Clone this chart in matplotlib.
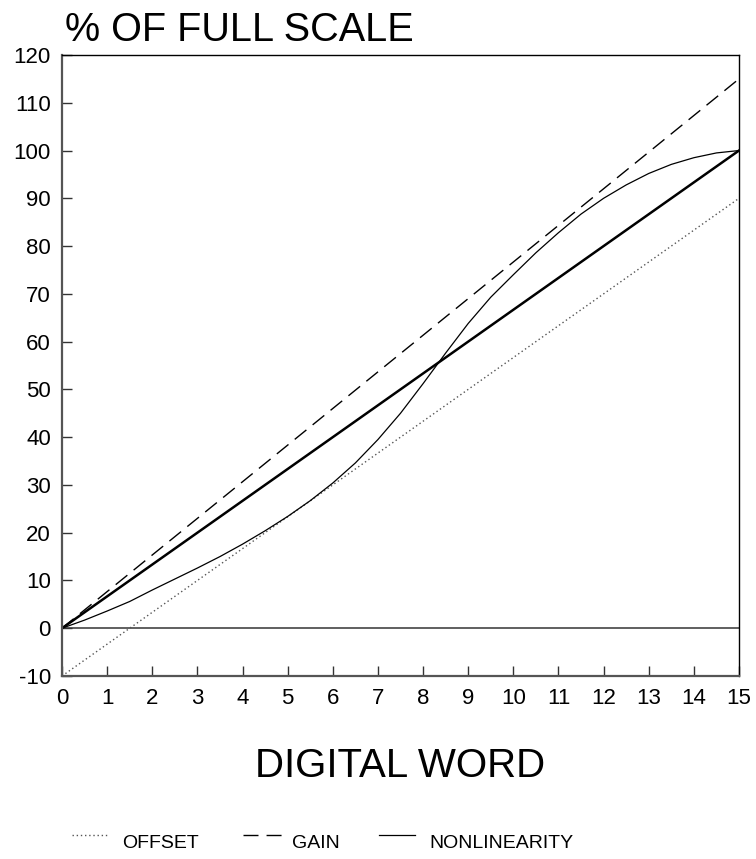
import numpy as np
import matplotlib
matplotlib.use("Agg")
import matplotlib.pyplot as plt
from matplotlib.lines import Line2D
from matplotlib import font_manager

plt.rcParams['font.family'] = ['Liberation Sans', 'DejaVu Sans']
plt.rcParams['axes.unicode_minus'] = False

# digital word codes and transfer curves (% of full scale)
codes = [0, 15]
ideal = [0, 100]
gain = [0, 115]
offset = [-10, 90]

nl_codes = [0, 0.5, 1, 1.5, 2, 2.5, 3, 3.5, 4, 4.5, 5, 5.5, 6, 6.5, 7, 7.5,
            8, 8.5, 9, 9.5, 10, 10.5, 11, 11.5, 12, 12.5, 13, 13.5, 14, 14.5, 15]
nonlinear = [0, 1.7, 3.6, 5.6, 8.0, 10.3, 12.6, 15.0, 17.6, 20.4, 23.4, 26.7,
             30.4, 34.6, 39.5, 45.0, 51.2, 57.6, 63.8, 69.3, 74.0, 78.6, 82.8,
             86.7, 90.0, 92.8, 95.2, 97.1, 98.5, 99.5, 100]

x_ticks = list(range(0, 16))
y_ticks = list(range(-10, 121, 10))

# narrow face for the legend, if present
names = {f.name for f in font_manager.fontManager.ttflist}
legend_family = ['Liberation Sans Narrow'] if 'Liberation Sans Narrow' in names else ['Liberation Sans']
legend_size = 16.5 if 'Liberation Sans Narrow' in names else 14

W, H = 756, 859
fig = plt.figure(figsize=(W / 100, H / 100), dpi=100)
ax = fig.add_axes([62 / W, 1 - 676 / H, (739 - 62) / W, (676 - 55) / H])

dot_style = (0, (1, 2))
dash_style = (0, (10.8, 5.8))

ax.axhline(0, color='#444444', lw=1.2, zorder=1)
ax.plot(codes, offset, color='#555555', lw=1.0, linestyle=dot_style)
ax.plot(codes, gain, color='black', lw=1.0, linestyle=dash_style)
ax.plot(codes, ideal, color='black', lw=1.8)
ax.plot(nl_codes, nonlinear, color='black', lw=0.9)

ax.set_xlim(0, 15)
ax.set_ylim(-10, 120)
ax.set_xticks(x_ticks)
ax.set_yticks(y_ticks)
ax.tick_params(direction='in', length=7, width=1.0, labelsize=16, color='#333333')
ax.tick_params(axis='x', pad=9)
ax.tick_params(axis='y', pad=8)

for side in ['left', 'bottom']:
    ax.spines[side].set_color('#555555')
    ax.spines[side].set_linewidth(1.6)
for side in ['top', 'right']:
    ax.spines[side].set_color('black')
    ax.spines[side].set_linewidth(1.0)

fig.text(65 / W, 1 - 41 / H, '% OF FULL SCALE', fontsize=28.5, ha='left', va='baseline')
fig.text(400.5 / W, 1 - 777 / H, 'DIGITAL WORD', fontsize=29, ha='center', va='baseline')

# legend row at the bottom
ly = 1 - 835 / H
tb = 1 - 848 / H
fig.add_artist(Line2D([72 / W, 109 / W], [ly, ly], color='#555555', lw=1.0, linestyle=dot_style))
fig.text(122 / W, tb, 'OFFSET', fontsize=legend_size, family=legend_family, ha='left', va='baseline')
fig.add_artist(Line2D([243 / W, 282 / W], [ly, ly], color='black', lw=1.0, linestyle=dash_style))
fig.text(292 / W, tb, 'GAIN', fontsize=legend_size, family=legend_family, ha='left', va='baseline')
fig.add_artist(Line2D([379 / W, 415 / W], [ly, ly], color='black', lw=0.9))
fig.text(429 / W, tb, 'NONLINEARITY', fontsize=legend_size, family=legend_family, ha='left', va='baseline')

fig.savefig('out.png', dpi=100)
